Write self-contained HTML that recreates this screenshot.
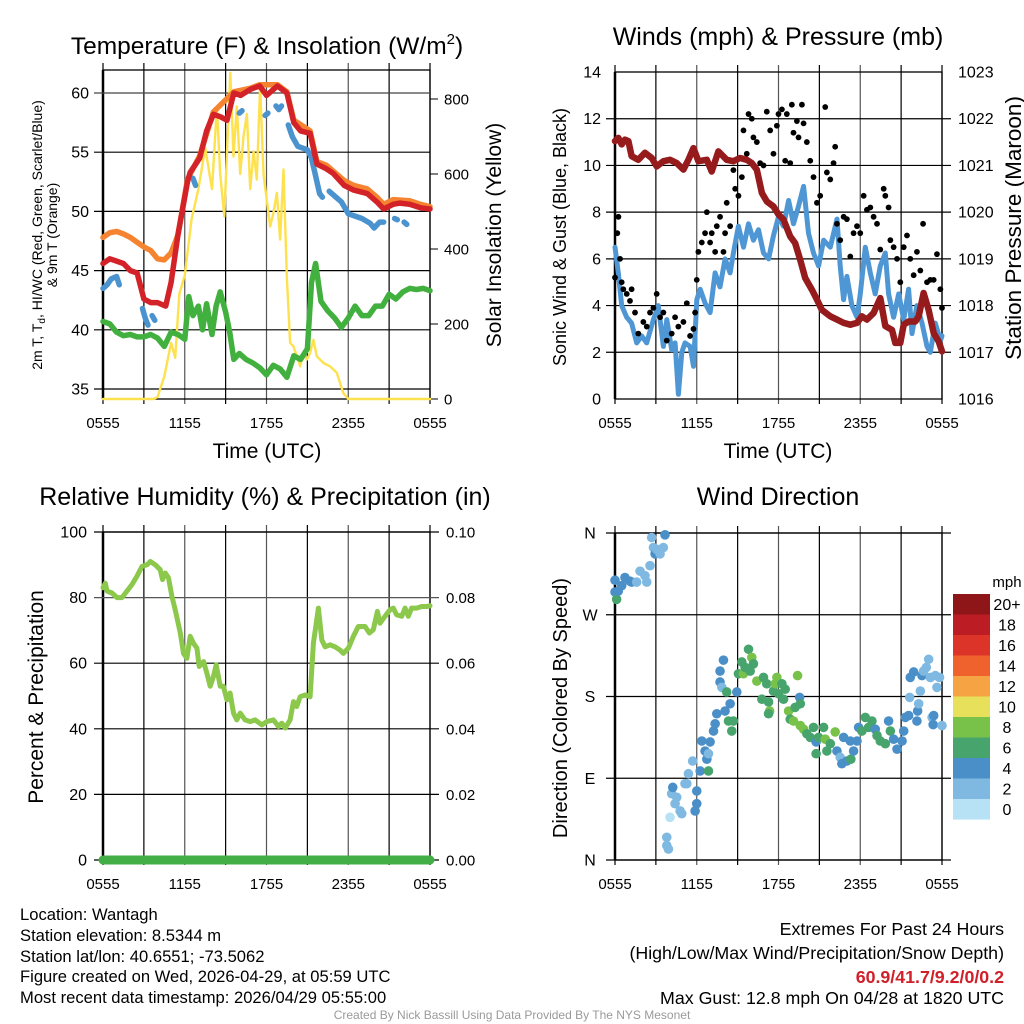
<!DOCTYPE html>
<html><head><meta charset="utf-8"><style>
body{margin:0;background:#fff;}
svg{display:block;font-family:"Liberation Sans",sans-serif;}
</style></head><body>
<svg id="s" width="1024" height="1024" viewBox="0 0 1024 1024">
<g id="static">
<text x="267" y="54" font-size="24.5" text-anchor="middle">Temperature (F) &amp; Insolation (W/m<tspan dy="-10" font-size="15">2</tspan><tspan dy="10">)</tspan></text>
<text x="778" y="45" font-size="25" text-anchor="middle">Winds (mph) &amp; Pressure (mb)</text>
<text x="265" y="505" font-size="25" text-anchor="middle">Relative Humidity (%) &amp; Precipitation (in)</text>
<text x="778" y="505" font-size="25" text-anchor="middle">Wind Direction</text>
<text x="267" y="458" font-size="21" text-anchor="middle">Time (UTC)</text>
<text x="778" y="458" font-size="21" text-anchor="middle">Time (UTC)</text>
<text transform="translate(42,235) rotate(-90)" font-size="14" text-anchor="middle">2m T, T<tspan dy="3" font-size="10">d</tspan><tspan dy="-3">, HI/WC (Red, Green, Scarlet/Blue)</tspan></text>
<text transform="translate(57,235) rotate(-90)" font-size="14" text-anchor="middle">&amp; 9m T (Orange)</text>
<text transform="translate(501,235) rotate(-90)" font-size="21" text-anchor="middle">Solar Insolation (Yellow)</text>
<text transform="translate(566,237) rotate(-90)" font-size="18" text-anchor="middle">Sonic Wind &amp; Gust (Blue, Black)</text>
<text transform="translate(1021,228) rotate(-90)" font-size="22.5" text-anchor="middle">Station Pressure (Maroon)</text>
<text transform="translate(43,697) rotate(-90)" font-size="21" text-anchor="middle">Percent &amp; Precipitation</text>
<text transform="translate(567,708) rotate(-90)" font-size="20" text-anchor="middle">Direction (Colored By Speed)</text>
<text x="1007" y="587" font-size="15" text-anchor="middle">mph</text>
<g font-size="16.6">
<text x="20" y="920">Location: Wantagh</text>
<text x="20" y="941">Station elevation: 8.5344 m</text>
<text x="20" y="962">Station lat/lon: 40.6551; -73.5062</text>
<text x="20" y="982">Figure created on Wed, 2026-04-29, at 05:59 UTC</text>
<text x="20" y="1003">Most recent data timestamp: 2026/04/29 05:55:00</text>
</g>
<g font-size="17.8" text-anchor="end">
<text x="1004" y="935">Extremes For Past 24 Hours</text>
<text x="1004" y="959">(High/Low/Max Wind/Precipitation/Snow Depth)</text>
<text x="1004" y="983" fill="#d0202a" font-weight="bold">60.9/41.7/9.2/0/0.2</text>
<text x="1004" y="1004">Max Gust: 12.8 mph On 04/28 at 1820 UTC</text>
</g>
<text x="512" y="1019" font-size="12" fill="#9a9a9a" text-anchor="middle">Created By Nick Bassill Using Data Provided By The NYS Mesonet</text>
</g>
</svg>
<script>
const xTickLabels=["0555","1155","1755","2355","0555"];
const xTickHours=[0,6,12,18,24];
// Temperature panel
const redHours=[0,0.5,1,1.5,2,2.5,3,3.5,4,4.6,5,5.5,6.2,6.4,7.1,7.6,8.1,8.6,9.1,9.6,10.1,10.8,11.5,12,12.8,13.5,14,14.5,15.2,15.7,16.4,16.9,17.7,18.4,19.4,20.1,20.6,21.3,21.8,22.5,23.3,24];
const redTemp=[45.6,46,45.8,45.6,45,44.8,42.6,42.3,42.3,42.0,44,48,52.5,53.3,54.5,56.8,58.2,58,57.7,60,59.8,60.3,60.6,59.8,60.6,60,57.5,56.8,56.6,54,53.6,53.2,52.2,51.8,51.5,50.8,50.2,50.6,50.7,50.6,50.3,50.2];
const orangeHours=[0,0.5,1,1.5,2,2.5,3,3.5,4,4.5,5,5.5,6.2,7.1,8.1,9.6,10.8,11.5,12.8,13.5,14,15.2,15.7,16.4,17.7,18.4,19.4,20.1,20.6,21.3,22.5,23.3,24];
const orangeTemp=[47.8,48.2,48.3,48.1,47.8,47.4,47,46.7,46,45.9,46.5,48,52.7,54.7,58.4,60.1,60.4,60.7,60.7,60.1,57.7,56.8,54.2,53.9,52.6,52.2,51.9,51.2,50.6,51,50.9,50.6,50.4];
const blueHours=[0,0.3,0.6,1,1.2,null,2.9,3.1,3.3,null,3.6,3.8,null,6.6,6.8,null,10,10.2,null,11.9,12.1,null,12.7,12.9,13.1,null,13.6,13.9,14.3,15,15.3,15.6,15.9,16.1,null,16.6,17,17.5,18,18.5,19,19.6,19.9,20.3,20.6,null,21.4,21.6,null,22.1,22.3];
const blueTemp=[43.5,43.8,44.3,44.5,43.8,null,41.8,41,40.4,null,41.2,40.8,null,52.8,52.2,null,58.3,58.5,null,58.1,58.3,null,58.9,58.6,58.9,null,57.3,56.3,55.5,55.2,54.5,53,51.5,51.2,null,51.7,51.3,50.8,49.8,49.6,49.4,49,48.6,49.1,49.1,null,49.4,49.3,null,49.1,48.9];
const greenHours=[0,0.5,1,1.5,2,2.5,3,3.5,4,4.5,5,5.5,6,6.3,6.6,7,7.3,7.6,8,8.3,8.6,9,9.3,9.6,10,10.5,11,11.5,12,12.5,13,13.5,14,14.5,15,15.3,15.6,16,16.5,17,17.5,18,18.5,19,19.5,20,20.5,21,21.5,22,22.5,23,23.5,24];
const greenTemp=[40.7,40.5,39.8,39.5,39.6,39.4,39.4,39.6,39.3,38.6,39.8,39.6,39.2,42.8,41.2,42,40,42.2,39.6,42,43.2,41.5,39.8,37.5,38,37.5,37.2,36.8,36.2,37,36.7,36,37.8,37.5,38.4,44,45.6,42.4,41.6,41,40.2,41,42,41.2,41.2,42,42,43,42.6,43.2,43.5,43.4,43.5,43.3];
const solarHours=[0,3.7,4,4.5,5,5.3,5.6,6,6.5,7,7.5,8,8.36,8.6,8.9,9.34,9.58,9.82,10.07,10.31,10.56,10.8,11.05,11.29,11.53,11.78,12.02,12.27,12.51,12.76,13.0,13.25,13.49,13.73,13.98,14.47,14.71,14.96,15.2,15.44,15.69,16.18,16.67,17.16,17.64,18,24];
const solarWm2=[0,0,5,60,150,110,280,330,480,560,670,560,780,600,487,870,647,780,600,700,760,560,660,585,834,600,530,460,496,550,425,612,327,150,140,87,123,105,123,158,114,96,87,70,16,0,0];
const p1LeftTicks=[35,40,45,50,55,60];
const p1RightTicks=[0,200,400,600,800];
// Wind panel
const windHours=[0,.24,.49,.86,1.22,1.59,1.96,2.33,2.82,3.18,3.55,3.8,4.16,4.41,4.65,4.9,5.14,5.51,5.76,6.0,6.25,6.61,6.98,7.35,7.71,8.08,8.45,8.69,9.06,9.43,9.8,10.16,10.53,10.9,11.27,11.63,12.0,12.37,12.74,13.1,13.47,13.84,14.2,14.57,14.94,15.31,15.8,16.29,16.53,16.78,17.02,17.39,17.76,18.0,18.37,18.74,19.1,19.47,19.84,20.08,20.45,20.82,21.19,21.55,21.8,22.16,22.53,22.9,23.14,23.51,23.88,24];
const windMph=[6.5,5.4,4.0,3.5,3.25,2.4,2.7,2.4,3.4,4.0,2.25,3.4,2.1,2.4,0.2,2.0,2.4,2.25,1.4,4.25,4.7,4.1,3.7,5.4,4.8,6.0,5.4,6.25,7.4,6.5,7.5,6.8,7.25,6.25,6.0,7.0,7.8,7.4,8.5,7.5,8.25,9.1,7.1,6.25,5.7,6.8,6.5,7.7,5.7,4.25,5.25,4.0,3.5,4.5,6.5,5.4,4.5,5.7,6.25,4.5,3.5,4.5,3.4,4.7,2.8,4.0,3.25,2.25,2.0,3.25,2.5,2.7];
const gustHours=[0,.17,.25,.37,.49,.61,.86,1.1,1.22,1.47,1.71,2.08,2.33,2.57,2.82,3.06,3.31,3.55,3.8,4.16,4.41,4.65,5.02,5.27,5.51,5.76,5.88,6.0,6.12,6.37,6.61,6.74,6.98,7.1,7.35,7.47,7.71,7.96,8.08,8.2,8.45,8.69,8.82,9.06,9.31,9.43,9.67,9.8,10.04,10.16,10.41,10.65,10.9,11.14,11.39,11.63,11.88,12.0,12.25,12.49,12.61,12.86,12.98,13.1,13.35,13.47,13.72,13.84,14.08,14.33,14.57,14.82,15.06,15.43,15.55,15.8,16.04,16.16,16.29,16.53,16.78,17.02,17.27,17.51,17.76,18.0,18.25,18.49,18.74,18.98,19.23,19.47,19.72,19.84,20.08,20.21,20.45,20.7,20.94,21.19,21.43,21.67,21.92,22.16,22.41,22.61,22.9,23.14,23.39,23.63,23.88,24.0];
const gustMph=[5.2,7.1,7.8,6.0,5.0,4.7,4.5,4.2,4.7,3.7,2.8,3.3,3.1,3.7,3.9,4.5,3.5,3.7,2.5,2.8,3.5,3.1,3.3,4.1,2.7,3.0,3.7,5.1,6.3,6.7,7.1,8.0,6.7,7.1,6.3,7.4,7.8,6.3,7.1,8.4,7.4,9.8,9.0,8.7,9.5,11.5,10.5,12.2,12.0,11.2,11.0,10.1,10.0,12.3,11.5,10.5,11.7,12.2,12.4,10.2,12.2,10.1,12.6,11.4,11.9,11.2,12.6,11.8,11.0,10.2,9.5,8.4,8.7,12.5,9.7,9.4,10.1,10.8,7.5,6.8,7.8,7.7,6.1,7.1,7.4,7.1,8.7,8.1,8.2,7.8,7.5,6.4,9.0,8.7,8.2,6.8,6.5,6.0,5.0,6.5,7.0,6.0,5.3,6.3,5.5,7.5,5.0,5.1,5.1,6.2,4.7,3.9];
const presHours=[0,0.24,0.49,0.73,0.98,1.22,1.71,2.2,2.69,3.06,3.55,4.04,4.53,5.02,5.39,5.76,6.12,6.74,7.1,7.59,8.2,8.69,9.18,9.67,10.04,10.41,10.78,11.14,11.63,12.0,12.37,12.86,13.22,13.59,13.96,14.45,14.82,15.18,15.8,16.29,16.78,17.27,17.76,18.12,18.49,18.98,19.47,19.84,20.33,20.57,20.94,21.19,21.55,22.04,22.29,22.65,23.02,23.39,23.76,24];
const presMb=[1021.52,1021.59,1021.45,1021.55,1021.52,1021.2,1021.12,1021.27,1021.16,1020.98,1021.09,1021.12,1021.05,1020.91,1021.12,1021.37,1021.09,1021.12,1020.87,1021.3,1021.12,1021.09,1021.16,1021.12,1021.05,1020.91,1020.41,1020.23,1020.12,1019.95,1019.84,1019.48,1019.34,1018.98,1018.59,1018.34,1018.13,1017.91,1017.77,1017.7,1017.63,1017.59,1017.63,1017.77,1017.7,1017.84,1018.16,1017.56,1017.48,1017.2,1017.2,1017.59,1017.66,1017.66,1017.77,1018.27,1017.91,1017.41,1017.23,1017.02];
const p2LeftTicks=[0,2,4,6,8,10,12,14];
const p2RightTicks=[1016,1017,1018,1019,1020,1021,1022,1023];
// Humidity panel
const rhHours=[0,.17,.29,.66,1.03,1.39,1.76,2.13,2.49,2.86,3.23,3.47,3.84,4.2,4.37,4.57,4.81,5.06,5.3,5.67,5.91,6.16,6.4,6.65,6.89,7.06,7.38,7.62,7.87,8.11,8.31,8.6,8.84,9.09,9.33,9.58,9.82,10.07,10.43,10.8,11.16,11.66,12.02,12.51,12.88,13.12,13.37,13.73,13.98,14.22,14.47,14.83,15.2,15.44,15.81,16.06,16.3,16.67,17.03,17.4,17.64,18.01,18.38,18.74,19.23,19.55,19.84,20.14,20.33,20.7,21.07,21.31,21.55,21.92,22.17,22.41,22.65,23.02,23.39,23.75,24];
const rhPct=[83,84.4,82,81.4,80,80,82,84,86.5,89.5,90,91,90,88.5,85.5,87.5,86,80.4,76.3,69.2,63,61.5,68.2,66,64.6,59,60.5,57,53,56,59.5,53,53,48.8,50.9,44.8,42.7,44.8,42.7,42.2,42.7,41.2,42.2,42.7,40.7,41.7,40.2,42.7,48.3,46.8,49.8,50.3,49.8,66.1,76.8,67.1,65,65.6,65,64,63,64.6,68.2,71.2,71.2,69.2,70.2,75.8,72.2,74.3,76.3,76.8,74.8,74.3,76.8,74.3,76.8,76.8,77.3,77.3,77.5];
const precipHours=[0,24];
const precipIn=[0,0];
const p3LeftTicks=[0,20,40,60,80,100];
const p3RightTicks=["0.00","0.02","0.04","0.06","0.08","0.10"];
// Wind direction panel
const dirHours=[0,0,.12,.24,.49,.73,1.1,1.22,1.59,1.84,2.2,2.33,2.57,2.69,2.82,2.94,3.06,3.31,3.55,3.67,3.8,3.8,3.92,4.04,4.16,4.41,4.24,4.53,4.78,4.9,5.14,5.27,5.39,5.7,5.88,6.0,6.0,6.25,6.37,6.61,6.74,6.86,6.98,6.86,7.23,7.35,7.47,7.71,7.71,7.84,7.96,8.08,8.2,8.33,8.45,8.57,8.69,8.94,9.06,9.31,9.43,9.55,9.8,9.92,10.04,10.16,10.41,10.78,10.9,11.14,11.27,11.35,11.27,11.63,11.76,11.88,12.0,12.25,12.37,12.49,13.4,13.55,13.6,12.74,12.86,13.1,13.22,13.6,13.84,14.08,14.33,14.57,14.76,14.76,14.94,15.31,15.43,15.55,15.8,16.16,16.29,16.53,16.65,16.78,17.02,17.27,17.31,17.51,17.76,17.88,18.12,18.37,18.61,18.86,19.1,19.23,19.47,19.84,20.08,20.21,20.45,20.7,21.07,21.19,21.31,21.55,21.63,21.67,21.92,22.16,22.21,22.29,22.41,22.53,22.65,22.85,23.02,23.14,23.27,23.35,23.39,23.51,23.63,23.82,24];
const dirDeg=[308,295,287,296,302,311,307,306,306,318,313,306,324,355,344,337,342,337,344,358,25,16,12,47,73,62,80,69,54,51,84,84,95,109,54,62,76,98,131,120,111,117,130,98,142,150,161,196,208,190,220,164,185,153,172,142,153,185,205,218,205,212,232,208,223,216,197,177,201,194,174,164,161,186,194,201,183,194,177,188,203,179,172,164,155,153,168,148,144,139,135,146,130,117,135,146,133,120,128,141,120,113,106,135,109,131,111,120,131,146,142,157,146,153,144,137,131,128,153,142,133,122,131,142,157,159,179,201,207,153,164,172,186,203,208,212,221,201,157,149,159,203,190,201,148];
const dirSpeed=[4.5,4.5,6.5,4.5,4.5,4.5,4.5,4.5,2.5,2.5,2.5,2.5,2.5,2.5,2.5,4.5,2.5,2.5,2.5,4.5,2.5,2.5,2.5,1,2.5,2.5,4.5,2.5,2.5,2.5,2.5,2.5,2.5,2.5,4.5,4.5,4.5,4.5,4.5,4.5,4.5,2.5,4.5,6.5,4.5,4.5,4.5,4.5,4.5,2.5,4.5,4.5,6.5,6.5,4.5,6.5,6.5,4.5,6.5,6.5,8.5,6.5,6.5,6.5,8.5,6.5,8.5,6.5,6.5,6.5,6.5,8.5,6.5,6.5,8.5,8.5,6.5,6.5,6.5,6.5,8.5,4.5,6.5,8.5,6.5,8.5,6.5,8.5,8.5,6.5,6.5,6.5,4.5,6.5,6.5,6.5,8.5,6.5,6.5,8.5,4.5,2.5,4.5,4.5,4.5,4.5,6.5,4.5,4.5,4.5,6.5,6.5,6.5,6.5,4.5,6.5,6.5,6.5,4.5,6.5,4.5,4.5,4.5,4.5,4.5,4.5,2.5,4.5,4.5,4.5,4.5,2.5,2.5,4.5,2.5,2.5,2.5,2.5,2.5,4.5,4.5,2.5,2.5,2.5,2.5];
const dirLabels=["N","E","S","W","N"];
const dirTicks=[0,90,180,270,360];
const cbLabels=["20+","18","16","14","12","10","8","6","4","2","0"];
const cbColors=["#8e1518","#bc1c23","#dc3428","#f0622d","#f6a344","#e6e05a","#79c24a","#47a46c","#4a8fc7","#7fb9e2","#b7e2f6"];

const NS="http://www.w3.org/2000/svg";
const svg=document.getElementById('s');
function mk(tag,attrs,parent){const e=document.createElementNS(NS,tag);for(const k in attrs)e.setAttribute(k,attrs[k]);(parent||svg).appendChild(e);return e;}
function linear(d0,d1,r0,r1){return v=>r0+(v-d0)/(d1-d0)*(r1-r0);}
function speedColor(s){const i=Math.min(10,Math.floor(s/2));return cbColors[10-i];}

function frame(P,name){
  const g=mk('g',{});
  
  
  for(let h=0;h<=24;h+=3){
    const x=P.x(h);
    const l=mk('line',{x1:x,x2:x,y1:P.T-7,y2:P.B+5,stroke:(h%6==0&&h%24!=0)?'#555':'#000','stroke-width':1.2},g);
    
    
  }
  xTickHours.forEach((h,i)=>{
    const t=mk('text',{x:P.x(h),y:P.B+29,'font-size':15,'text-anchor':'middle'},g);
    t.textContent=xTickLabels[i];
    
    
  });
  const f=mk('rect',{x:P.L,y:P.T,width:P.R-P.L,height:P.B-P.T,fill:'none',stroke:'#000','stroke-width':1.3},g);
  
  
  mk('line',{x1:P.L,x2:P.L,y1:P.T,y2:P.B,stroke:'#000','stroke-width':2.5},g);
  return g;
}
function hline(g,y,x1,x2,col){const l=mk('line',{x1:x1,x2:x2,y1:y,y2:y,stroke:col||'#000','stroke-width':1.2},g);}
function label(g,x,y,txt,anchor,size){const t=mk('text',{x:x,y:y+5.5,'font-size':size||15,'text-anchor':anchor},g);t.textContent=txt;return t;}
function path(g,xs,ys,fx,fy,style,name){
  let d='',pen=false;
  for(let i=0;i<xs.length;i++){
    if(xs[i]===null||ys[i]===null){pen=false;continue;}
    d+=(pen?'L':'M')+fx(xs[i]).toFixed(1)+' '+fy(ys[i]).toFixed(1);pen=true;
  }
  const p=mk('path',Object.assign({d:d,fill:'none','stroke-linejoin':'round','stroke-linecap':'round'},style),g);
  
  
  return p;
}

// Panel 1
{const P={L:103,R:430,T:70,B:399};P.x=linear(0,24,P.L,P.R);
 const y=linear(35,60,389,93), y2=linear(0,800,399,99);
 const g=frame(P,'temperature');
 p1LeftTicks.forEach(v=>{hline(g,y(v),P.L-9,P.R,v==60?'#444':'#000');label(g,P.L-14,y(v),String(v),'end',16);});
 p1RightTicks.forEach(v=>{mk('line',{x1:P.R,x2:P.R+8,y1:y2(v),y2:y2(v),stroke:'#000'},g);label(g,P.R+14,y2(v),String(v),'start',15);});
 path(g,solarHours,solarWm2,P.x,y2,{stroke:'#fde14e','stroke-width':2.4},'solar-line');
 path(g,orangeHours,orangeTemp,P.x,y,{stroke:'#f5832f','stroke-width':5.5},'9m-temp-line');
 path(g,greenHours,greenTemp,P.x,y,{stroke:'#42b03f','stroke-width':5.5},'dewpoint-line');
 path(g,blueHours,blueTemp,P.x,y,{stroke:'#4b93cf','stroke-width':5.5},'heat-index-line');
 path(g,redHours,redTemp,P.x,y,{stroke:'#d42328','stroke-width':5.5},'temp-line');
}
// Panel 2
{const P={L:615,R:942,T:72,B:399};P.x=linear(0,24,P.L,P.R);
 const y=linear(0,14,399,72), y2=linear(1016,1023,399,72);
 const g=frame(P,'winds');
 p2LeftTicks.forEach(v=>{if(v>0&&v<14)hline(g,y(v),P.L-9,P.R+9,'#000');label(g,P.L-14,y(v),String(v),'end',16);});
 p2RightTicks.forEach(v=>{label(g,P.R+16,y2(v),String(v),'start',16);});
 path(g,windHours,windMph,P.x,y,{stroke:'#4f97d4','stroke-width':5},'sonic-wind-line');
 gustHours.forEach((h,i)=>{const c=mk('circle',{cx:P.x(h),cy:y(gustMph[i]),r:2.9,fill:'#000'},g);
   
   });
 path(g,presHours,presMb,P.x,y2,{stroke:'#961b1d','stroke-width':6.5},'pressure-line');
}
// Panel 3
{const P={L:103,R:430,T:532,B:860};P.x=linear(0,24,P.L,P.R);
 const y=linear(0,100,860,532);
 const g=frame(P,'humidity');
 p3LeftTicks.forEach((v,i)=>{hline(g,y(v),P.L-9,P.R+9,v==80?'#555':'#000');label(g,P.L-16,y(v),String(v),'end',16);label(g,P.R+16,y(v),p3RightTicks[i],'start',15);});
 path(g,rhHours,rhPct,P.x,y,{stroke:'#8cc84b','stroke-width':5},'rh-line');
 path(g,precipHours,precipIn,P.x,linear(0,0.1,860,532),{stroke:'#43ae45','stroke-width':9},'precip-line');
}
// Panel 4
{const P={L:615,R:942,T:533,B:860};P.x=linear(0,24,P.L,P.R);
 const y=linear(0,360,860,533);
 const g=frame(P,'wind-direction');
 dirTicks.forEach((v,i)=>{hline(g,y(v),P.L-9,P.R+9,'#000');label(g,590,y(v),dirLabels[i],'middle',16);});
 dirHours.forEach((h,i)=>{const c=mk('circle',{cx:P.x(h),cy:y(dirDeg[i]),r:4.8,fill:speedColor(dirSpeed[i])},g);
   
   });
 const cb=mk('g',{});
 
 
 cbColors.forEach((c,i)=>{const r=mk('rect',{x:953,y:594+i*20.5,width:37,height:20.6,fill:c},cb);
   
   
   const t=mk('text',{x:1007,y:594+i*20.5+16,'font-size':16,'text-anchor':'middle'},cb);t.textContent=cbLabels[i];
   
   });
}
</script>
</body></html>
